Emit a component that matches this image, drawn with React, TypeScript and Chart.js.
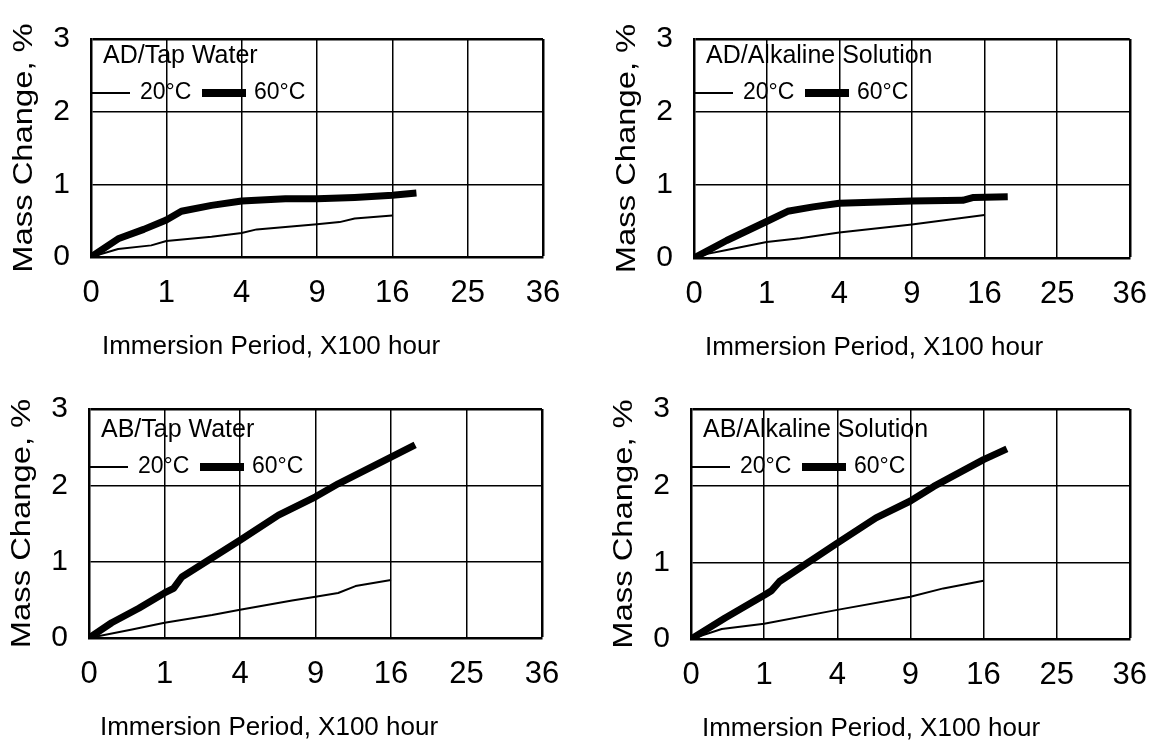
import React, { useEffect, useRef } from 'react';
import { Chart, registerables } from 'chart.js';

Chart.register(...registerables);

// ---- tick labels (x axis is drawn on a square-root time scale) ----
const X_TICK_LABELS = ['0', '1', '4', '9', '16', '25', '36'];
const Y_MIN = 0;
const Y_MAX = 3;
const SERIES_LABELS = ['20°C', '60°C'];
const Y_TITLE = 'Mass Change, %';
const X_TITLE = 'Immersion Period, X100 hour';

// ---- series values: x = sqrt(immersion period / 100 h), y = mass change % ----
// AD / Tap Water
const AD_TAP_20_X = [0, 0.36, 0.8, 1.0, 1.6, 2.0, 2.2, 3.0, 3.3, 3.5, 4.0];
const AD_TAP_20_Y = [0, 0.11, 0.16, 0.22, 0.28, 0.33, 0.38, 0.45, 0.48, 0.53, 0.57];
const AD_TAP_60_X = [0, 0.36, 0.7, 1.0, 1.2, 1.6, 2.0, 2.58, 3.0, 3.5, 4.0, 4.32];
const AD_TAP_60_Y = [0, 0.25, 0.38, 0.51, 0.63, 0.71, 0.77, 0.8, 0.8, 0.82, 0.85, 0.88];

// AD / Alkaline Solution
const AD_ALK_20_X = [0, 0.2, 0.45, 1.0, 1.46, 2.0, 3.0, 4.0];
const AD_ALK_20_Y = [0, 0.06, 0.11, 0.22, 0.27, 0.35, 0.46, 0.59];
const AD_ALK_60_X = [0, 0.45, 1.0, 1.29, 1.64, 2.0, 3.0, 3.7, 3.85, 4.32];
const AD_ALK_60_Y = [0, 0.24, 0.5, 0.64, 0.7, 0.75, 0.78, 0.79, 0.83, 0.84];

// AB / Tap Water
const AB_TAP_20_X = [0, 0.57, 1.0, 1.63, 2.0, 2.69, 3.0, 3.3, 3.53, 4.0];
const AB_TAP_20_Y = [0, 0.11, 0.2, 0.3, 0.37, 0.49, 0.54, 0.59, 0.68, 0.76];
const AB_TAP_60_X = [0, 0.3, 0.66, 1.0, 1.12, 1.23, 2.0, 2.51, 3.0, 3.3, 4.0, 4.32];
const AB_TAP_60_Y = [0, 0.2, 0.39, 0.59, 0.65, 0.8, 1.28, 1.61, 1.85, 2.02, 2.37, 2.53];

// AB / Alkaline Solution
const AB_ALK_20_X = [0, 0.42, 1.0, 2.0, 3.0, 3.45, 4.0];
const AB_ALK_20_Y = [0, 0.13, 0.2, 0.38, 0.55, 0.66, 0.76];
const AB_ALK_60_X = [0, 0.46, 1.0, 1.1, 1.21, 2.0, 2.53, 3.0, 3.32, 4.0, 4.32];
const AB_ALK_60_Y = [0, 0.27, 0.57, 0.63, 0.75, 1.25, 1.58, 1.8, 1.99, 2.34, 2.48];

const FONT = '"Liberation Sans", Arial, Helvetica, sans-serif';

type Area = { left: number; right: number; top: number; bottom: number };
type PanelCfg = {
  title: string;
  x: number;
  y: number;
  w: number;
  h: number;
  area: Area;
  titleDy: number;
  legendDy: number;
  x20: number[];
  y20: number[];
  x60: number[];
  y60: number[];
};

const PANELS: PanelCfg[] = [
  {
    title: 'AD/Tap Water', x: 0, y: 0, w: 580, h: 370,
    area: { left: 91, right: 543, top: 26, bottom: 257 }, titleDy: 24, legendDy: 54,
    x20: AD_TAP_20_X, y20: AD_TAP_20_Y, x60: AD_TAP_60_X, y60: AD_TAP_60_Y,
  },
  {
    title: 'AD/Alkaline Solution', x: 580, y: 0, w: 585, h: 370,
    area: { left: 114, right: 568, top: 28, bottom: 258 }, titleDy: 24, legendDy: 54,
    x20: AD_ALK_20_X, y20: AD_ALK_20_Y, x60: AD_ALK_60_X, y60: AD_ALK_60_Y,
  },
  {
    title: 'AB/Tap Water', x: 0, y: 370, w: 580, h: 377,
    area: { left: 89, right: 542, top: 38, bottom: 268 }, titleDy: 28, legendDy: 58,
    x20: AB_TAP_20_X, y20: AB_TAP_20_Y, x60: AB_TAP_60_X, y60: AB_TAP_60_Y,
  },
  {
    title: 'AB/Alkaline Solution', x: 580, y: 370, w: 585, h: 377,
    area: { left: 111, right: 566, top: 39, bottom: 269 }, titleDy: 28, legendDy: 58,
    x20: AB_ALK_20_X, y20: AB_ALK_20_Y, x60: AB_ALK_60_X, y60: AB_ALK_60_Y,
  },
];

const panelTextPlugin = {
  id: 'panelText',
  afterDraw(chart: any, _args: any, opts: any) {
    const { ctx, chartArea: a } = chart;
    ctx.save();
    ctx.fillStyle = '#000';
    ctx.strokeStyle = '#000';

    // panel title inside plot
    ctx.font = `25px ${FONT}`;
    ctx.textAlign = 'left';
    ctx.textBaseline = 'alphabetic';
    ctx.fillText(opts.title, a.left + 12, a.top + opts.titleDy);

    // legend
    const ly = a.top + opts.legendDy;
    ctx.lineCap = 'butt';
    ctx.lineWidth = 2;
    ctx.beginPath();
    ctx.moveTo(a.left + 1, ly);
    ctx.lineTo(a.left + 39, ly);
    ctx.stroke();
    ctx.font = `23px ${FONT}`;
    ctx.textBaseline = 'middle';
    ctx.fillText(SERIES_LABELS[0], a.left + 49, ly);
    ctx.lineWidth = 8;
    ctx.beginPath();
    ctx.moveTo(a.left + 111, ly);
    ctx.lineTo(a.left + 155, ly);
    ctx.stroke();
    ctx.fillText(SERIES_LABELS[1], a.left + 163, ly);

    // y axis title (rotated, stretched along its length like the reference)
    ctx.save();
    ctx.translate(a.left - 67, (a.top + a.bottom) / 2);
    ctx.rotate(-Math.PI / 2);
    ctx.scale(1.17, 1);
    ctx.font = `28px ${FONT}`;
    ctx.textAlign = 'center';
    ctx.textBaseline = 'middle';
    ctx.fillText(Y_TITLE, 0, 0);
    ctx.restore();

    // x axis title
    ctx.font = `26px ${FONT}`;
    ctx.textAlign = 'center';
    ctx.textBaseline = 'alphabetic';
    ctx.fillText(X_TITLE, a.left + 180, a.bottom + 97);
    ctx.restore();
  },
};

function toPoints(xs: number[], ys: number[]) {
  return xs.map((x, i) => ({ x, y: ys[i] }));
}

function Panel({ cfg }: { cfg: PanelCfg }) {
  const ref = useRef<HTMLCanvasElement | null>(null);
  useEffect(() => {
    if (!ref.current) return;
    const { area, w, h } = cfg;
    const gridWidth = (c: any) => {
      const n = c.scale.ticks.length;
      return c.index === n - 1 ? 2.5 : 1.5;
    };
    const chart = new Chart(ref.current, {
      type: 'line',
      data: {
        datasets: [
          {
            label: SERIES_LABELS[1],
            data: toPoints(cfg.x60, cfg.y60),
            borderColor: '#000',
            borderWidth: 7,
            borderJoinStyle: 'round',
            pointRadius: 0,
            tension: 0,
            fill: false,
          },
          {
            label: SERIES_LABELS[0],
            data: toPoints(cfg.x20, cfg.y20),
            borderColor: '#000',
            borderWidth: 2,
            borderJoinStyle: 'round',
            pointRadius: 0,
            tension: 0,
            fill: false,
          },
        ],
      },
      options: {
        responsive: false,
        animation: false,
        parsing: false,
        normalized: true,
        layout: {
          padding: { left: 0, top: area.top, right: w - area.right, bottom: 0 },
        },
        plugins: {
          legend: { display: false },
          tooltip: { enabled: false },
          title: { display: false },
          panelText: {
            title: cfg.title,
            titleDy: cfg.titleDy,
            legendDy: cfg.legendDy,
          },
        } as any,
        scales: {
          x: {
            type: 'linear',
            min: 0,
            max: X_TICK_LABELS.length - 1,
            afterFit: (s: any) => {
              s.height = h - area.bottom;
            },
            ticks: {
              stepSize: 1,
              autoSkip: false,
              maxRotation: 0,
              padding: 18,
              color: '#000',
              font: { family: FONT, size: 31 },
              callback: (v: any) => X_TICK_LABELS[Math.round(Number(v))] ?? '',
            },
            grid: { color: '#000', lineWidth: gridWidth, drawTicks: false },
            border: { display: true, color: '#000', width: 2.5 },
          },
          y: {
            type: 'linear',
            min: Y_MIN,
            max: Y_MAX,
            afterFit: (s: any) => {
              s.width = area.left;
            },
            ticks: {
              stepSize: 1,
              padding: 21,
              color: '#000',
              font: { family: FONT, size: 30 },
            },
            grid: { color: '#000', lineWidth: gridWidth, drawTicks: false },
            border: { display: true, color: '#000', width: 2.5 },
          },
        },
      } as any,
      plugins: [panelTextPlugin as any],
    });
    return () => chart.destroy();
  }, [cfg]);
  return (
    <canvas
      ref={ref}
      width={cfg.w}
      height={cfg.h}
      style={{ position: 'absolute', left: cfg.x, top: cfg.y, width: cfg.w, height: cfg.h }}
    />
  );
}

export default function App() {
  return (
    <div
      style={{
        position: 'fixed',
        left: 0,
        top: 0,
        width: 1165,
        height: 747,
        background: '#fff',
        overflow: 'hidden',
      }}
    >
      {PANELS.map((p) => (
        <Panel key={p.title} cfg={p} />
      ))}
    </div>
  );
}
